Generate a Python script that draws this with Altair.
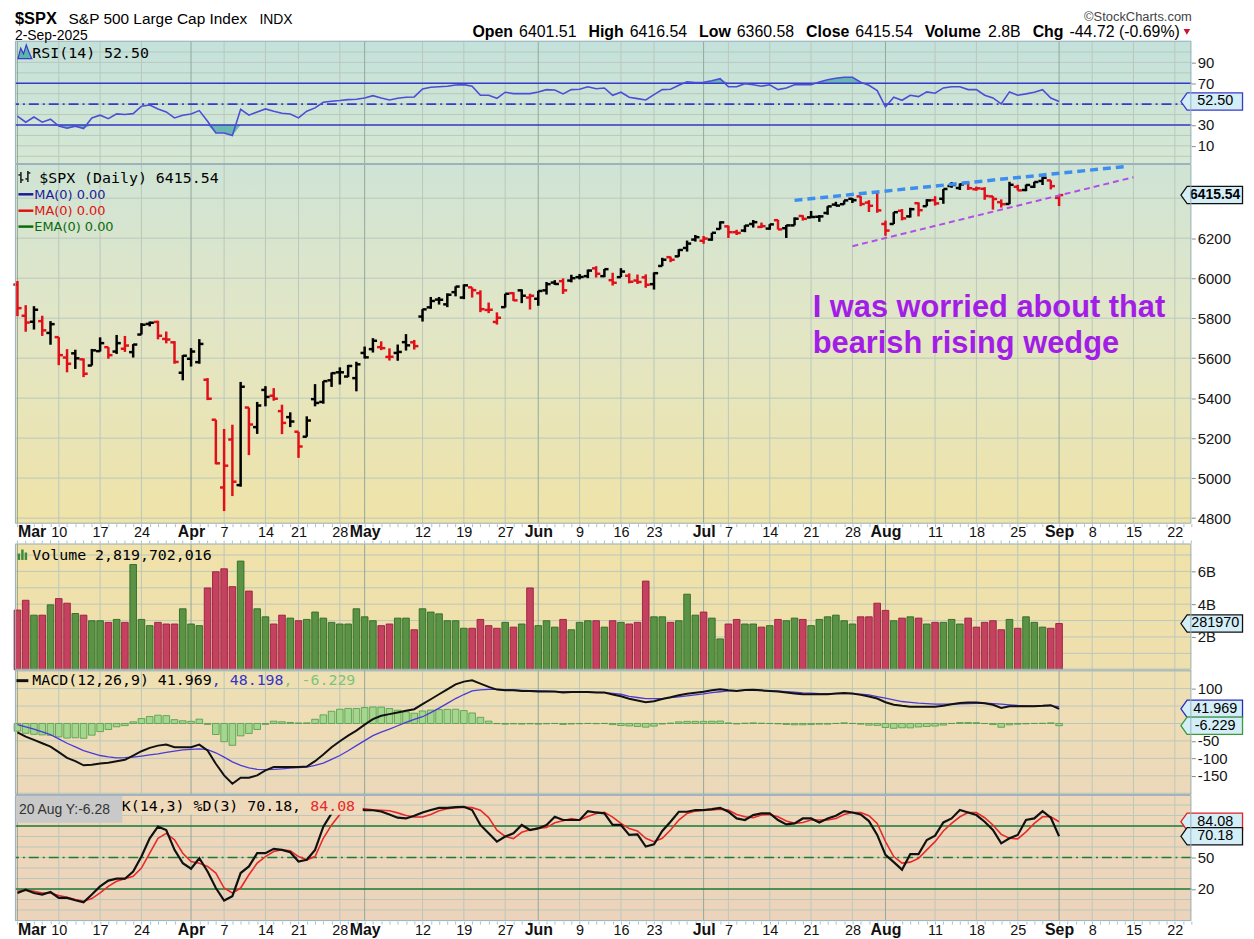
import altair as alt
import pandas as pd

# ------------------------------------------------------------------ data
# trading-day index 0 = 3-Mar-2025 ... 126 = 2-Sep-2025
OPEN = [
    5968, 5812, 5782, 5785, 5726, 5705, 5603, 5624, 5594, 5563,
    5635, 5655, 5633, 5647, 5630, 5718, 5771, 5781, 5696, 5679,
    5527, 5597, 5580, 5492, 5292, 4953, 5193, 4965, 5353, 5255,
    5441, 5412, 5335, 5305, 5232, 5207, 5395, 5381, 5489, 5529,
    5508, 5500, 5626, 5645, 5655, 5606, 5626, 5680, 5679, 5808,
    5854, 5893, 5869, 5930, 5903, 5954, 5925, 5841, 5781, 5855,
    5925, 5939, 5903, 5897, 5939, 5978, 5985, 5988, 6005, 6010,
    6049, 6010, 5990, 6005, 6012, 5988, 6004, 5970, 6061, 6105,
    6109, 6151, 6193, 6187, 6193, 6246, 6259, 6230, 6238, 6271,
    6256, 6248, 6290, 6250, 6264, 6311, 6304, 6307, 6326, 6368,
    6370, 6397, 6409, 6378, 6428, 6271, 6271, 6337, 6309, 6375,
    6360, 6390, 6397, 6461, 6451, 6478, 6445, 6447, 6409, 6380,
    6371, 6457, 6441, 6457, 6486, 6489, 6401.51,
]
HIGH = [
    5986, 5865, 5860, 5812, 5785, 5705, 5645, 5642, 5598, 5646,
    5704, 5655, 5716, 5711, 5670, 5775, 5783, 5787, 5733, 5685,
    5615, 5650, 5695, 5500, 5292, 5246, 5267, 5481, 5353, 5381,
    5460, 5450, 5367, 5329, 5232, 5309, 5470, 5485, 5528, 5554,
    5566, 5582, 5658, 5700, 5684, 5649, 5668, 5720, 5691, 5845,
    5906, 5906, 5924, 5959, 5969, 5954, 5939, 5878, 5829, 5922,
    5930, 5944, 5922, 5937, 5981, 5990, 5999, 6017, 6021, 6043,
    6060, 6046, 6027, 6050, 6024, 6018, 6019, 6029, 6102, 6108,
    6145, 6188, 6216, 6211, 6227, 6284, 6263, 6242, 6265, 6291,
    6278, 6270, 6292, 6266, 6304, 6315, 6336, 6316, 6360, 6382,
    6389, 6401, 6410, 6390, 6428, 6288, 6330, 6346, 6352, 6379,
    6395, 6410, 6446, 6481, 6474, 6481, 6458, 6455, 6410, 6394,
    6482, 6467, 6468, 6482, 6508, 6489, 6416.54,
]
LOW = [
    5810, 5732, 5743, 5711, 5667, 5565, 5529, 5546, 5505, 5563,
    5633, 5597, 5621, 5631, 5603, 5718, 5759, 5694, 5674, 5572,
    5489, 5558, 5572, 5390, 5069, 4835, 4910, 4957, 5115, 5221,
    5359, 5387, 5220, 5255, 5101, 5207, 5359, 5372, 5456, 5468,
    5505, 5434, 5598, 5628, 5640, 5588, 5587, 5638, 5643, 5783,
    5847, 5868, 5855, 5909, 5895, 5903, 5830, 5825, 5768, 5853,
    5886, 5875, 5843, 5862, 5918, 5966, 5921, 5979, 5994, 6000,
    6003, 6005, 5963, 6005, 5974, 5971, 5952, 5943, 6060, 6080,
    6107, 6133, 6183, 6172, 6187, 6244, 6201, 6216, 6230, 6253,
    6251, 6242, 6243, 6201, 6264, 6288, 6303, 6282, 6317, 6360,
    6368, 6376, 6360, 6331, 6327, 6212, 6271, 6289, 6303, 6309,
    6360, 6363, 6372, 6452, 6441, 6441, 6437, 6392, 6343, 6353,
    6370, 6438, 6435, 6451, 6466, 6444, 6360.58,
]
CLOSE = [
    5850, 5778, 5842, 5739, 5770, 5615, 5572, 5599, 5522, 5639,
    5675, 5615, 5675, 5663, 5668, 5767, 5777, 5712, 5693, 5581,
    5612, 5633, 5671, 5397, 5074, 5062, 4982, 5457, 5268, 5363,
    5406, 5397, 5276, 5283, 5158, 5288, 5376, 5485, 5525, 5529,
    5561, 5569, 5604, 5687, 5650, 5607, 5631, 5664, 5660, 5844,
    5886, 5892, 5917, 5958, 5964, 5940, 5845, 5842, 5802, 5922,
    5889, 5912.2, 5911.7, 5936, 5970, 5971, 5939, 6000, 6006, 6038,
    6022, 6045, 5977, 6033, 5982, 5981, 5967, 6025, 6092.2, 6092.1,
    6141, 6173, 6205, 6198, 6227, 6279, 6230, 6226, 6263, 6280,
    6260, 6269, 6244, 6264, 6297.4, 6296.8, 6306, 6309, 6359, 6363,
    6389, 6390, 6371, 6362, 6339, 6238, 6330, 6299, 6345, 6340,
    6389, 6374, 6446, 6466, 6469, 6450, 6449, 6411, 6396, 6370,
    6467, 6439, 6466, 6481, 6502, 6460.26, 6415.54,
]
PREV_CLOSE = 5954.50
VOLUME_B = [
    3.64, 4.24, 3.33, 3.33, 3.96, 4.34, 4.06, 3.43, 3.33, 2.99,
    2.99, 2.89, 3.07, 2.89, 6.42, 3.07, 2.69, 2.89, 2.79, 2.79,
    3.72, 2.79, 2.69, 4.99, 5.98, 6.16, 5.07, 6.63, 4.80, 3.72,
    3.23, 2.79, 3.33, 3.15, 2.99, 3.07, 3.52, 3.15, 2.89, 2.79,
    2.79, 3.72, 3.23, 2.99, 2.69, 2.79, 3.15, 3.15, 2.44, 3.72,
    3.52, 3.41, 2.99, 2.99, 2.53, 2.53, 3.07, 2.69, 2.53, 2.89,
    2.60, 2.79, 4.99, 2.69, 2.99, 2.60, 3.07, 2.44, 2.89, 2.99,
    2.99, 2.60, 2.99, 2.89, 2.79, 2.89, 5.41, 3.23, 3.23, 2.89,
    2.99, 4.61, 3.33, 3.52, 3.15, 1.88, 2.79, 3.07, 2.79, 2.79,
    2.60, 2.69, 3.07, 2.99, 3.15, 3.07, 2.69, 3.07, 3.23, 3.33,
    2.99, 2.79, 3.23, 3.23, 4.06, 3.62, 2.99, 3.15, 3.23, 3.15,
    2.79, 2.89, 2.89, 3.07, 2.79, 3.15, 2.60, 2.89, 2.99, 2.44,
    3.07, 2.53, 3.23, 2.89, 2.60, 2.53, 2.82,
]
RSI14 = [
    38.4, 32.7, 37.7, 32.7, 35.5, 28.9, 26.9, 28.9, 26.6, 36.8,
    39.4, 36.1, 40.6, 40.0, 40.9, 48.0, 49.2, 45.4, 42.5, 36.8,
    39.4, 40.6, 43.8, 33.6, 22.4, 22.3, 19.9, 45.1, 39.4, 42.5,
    45.4, 43.2, 41.3, 40.6, 36.8, 43.2, 46.4, 51.8, 52.8, 53.4,
    54.3, 54.7, 55.9, 58.1, 55.9, 54.0, 55.6, 56.6, 56.9, 64.5,
    66.1, 66.7, 67.1, 68.4, 68.7, 67.1, 58.5, 58.5, 55.6, 61.4,
    60.1, 60.1, 60.1, 61.7, 63.9, 63.6, 59.8, 63.9, 64.2, 66.7,
    64.8, 65.5, 58.5, 61.4, 56.6, 55.3, 54.0, 59.1, 63.9, 64.2,
    68.1, 71.5, 70.6, 70.9, 72.4, 74.4, 66.7, 66.7, 69.6, 68.6,
    67.1, 68.6, 63.9, 65.5, 68.6, 68.6, 68.7, 71.2, 73.4, 74.8,
    75.7, 75.7, 71.0, 68.1, 62.9, 47.3, 56.6, 53.7, 58.5, 57.2,
    61.7, 60.4, 65.5, 66.7, 66.7, 63.9, 63.9, 58.5, 55.9, 50.2,
    61.7, 58.5, 59.8, 61.4, 63.9, 55.9, 52.5,
]
MACD_LINE = [
    -25.4, -37.7, -47.2, -56.7, -66.2, -82.3, -98.5, -108.0, -120.0, -118.5,
    -115.0, -112.7, -108.0, -104.0, -91.8, -79.5, -70.0, -63.4, -60.5, -68.0,
    -68.0, -68.0, -60.5, -77.6, -115.6, -148.8, -172.6, -155.5, -155.5, -148.8,
    -134.6, -125.0, -125.0, -125.0, -125.0, -123.2, -108.0, -89.0, -68.0, -51.0,
    -34.8, -20.5, -3.4, 12.6, 22.1, 26.8, 31.6, 36.4, 41.0, 55.3,
    69.5, 83.8, 98.0, 112.3, 120.0, 123.6, 114.2, 104.8, 97.2, 95.2,
    95.2, 93.4, 93.4, 91.5, 91.5, 91.5, 88.6, 90.0, 90.0, 90.0,
    88.6, 88.6, 83.0, 78.0, 71.0, 66.0, 61.0, 64.0, 70.0, 75.0,
    81.0, 85.0, 88.0, 91.0, 95.0, 98.0, 95.0, 93.0, 96.0, 97.0,
    95.0, 93.4, 91.5, 88.6, 85.8, 84.0, 83.8, 83.8, 83.8, 85.8,
    87.7, 85.8, 82.0, 77.2, 71.5, 61.0, 54.0, 50.7, 48.0, 48.0,
    48.0, 48.0, 50.7, 55.3, 59.0, 60.0, 60.0, 58.0, 53.6, 44.5,
    49.6, 49.6, 49.6, 49.6, 50.7, 52.5, 41.969,
]
MACD_SIGNAL = [
    -3.4, -9.5, -16.0, -24.0, -32.0, -44.0, -56.7, -67.0, -77.6, -85.0,
    -91.8, -95.5, -98.5, -98.0, -96.6, -93.5, -90.0, -87.1, -83.0, -79.0,
    -75.8, -74.0, -72.9, -75.0, -84.0, -96.6, -110.0, -120.0, -127.0, -131.6,
    -132.0, -131.6, -130.0, -127.9, -126.5, -125.0, -120.0, -113.7, -103.0, -91.8,
    -78.0, -63.4, -49.0, -34.8, -25.0, -16.0, -6.5, 3.1, 11.5, 19.4,
    31.0, 43.9, 57.5, 71.5, 83.0, 93.4, 96.5, 98.0, 97.6, 97.2,
    96.2, 95.2, 94.3, 93.4, 92.4, 91.5, 91.5, 91.5, 90.7, 90.0,
    89.3, 88.6, 86.2, 83.8, 78.0, 74.5, 71.5, 71.5, 71.5, 73.9,
    76.3, 79.0, 82.0, 85.0, 88.6, 91.0, 93.4, 94.3, 95.2, 95.2,
    94.3, 93.4, 92.4, 91.5, 89.6, 87.7, 86.8, 85.8, 85.8, 85.8,
    85.8, 85.8, 84.0, 82.0, 77.0, 72.4, 67.7, 63.0, 60.5, 58.1,
    56.7, 55.3, 55.3, 55.3, 56.3, 57.2, 57.7, 58.1, 56.7, 55.3,
    53.5, 51.6, 50.6, 49.6, 50.2, 50.7, 48.198,
]
STO_K = [
    16.2, 19.4, 16.2, 14.7, 17.1, 11.5, 11.5, 9.3, 7.4, 14.7,
    22.5, 28.0, 29.8, 29.8, 36.7, 50.9, 68.3, 79.4, 76.2, 57.3,
    44.6, 39.3, 49.3, 36.7, 20.9, 9.0, 13.1, 35.2, 41.5, 54.1,
    54.1, 58.2, 57.3, 55.0, 46.2, 47.8, 57.3, 79.4, 92.0, 97.0,
    98.0, 96.5, 95.2, 95.0, 93.8, 91.0, 87.9, 87.2, 89.8, 92.9,
    95.2, 97.3, 97.3, 98.0, 98.3, 95.2, 81.0, 73.0, 65.1, 69.9,
    73.0, 81.0, 76.2, 77.7, 81.0, 88.8, 85.7, 85.7, 85.7, 94.2,
    92.9, 92.0, 81.0, 81.0, 71.5, 72.0, 60.4, 62.6, 75.3, 84.1,
    93.6, 93.6, 95.2, 95.2, 96.1, 97.3, 93.6, 87.2, 85.7, 90.4,
    92.0, 92.0, 85.7, 81.5, 82.5, 87.2, 87.2, 83.4, 87.2, 89.8,
    94.2, 92.9, 91.0, 84.7, 71.5, 52.5, 45.6, 38.4, 53.2, 53.2,
    66.7, 70.8, 83.4, 87.2, 95.2, 92.9, 90.4, 84.1, 76.2, 63.5,
    68.3, 71.5, 85.7, 87.2, 94.2, 87.9, 70.18,
]
STO_D = [
    17.8, 18.8, 17.8, 16.2, 16.2, 13.7, 12.1, 9.9, 8.3, 10.9,
    16.2, 22.5, 27.3, 29.8, 32.0, 39.9, 54.1, 68.3, 73.0, 66.8,
    54.1, 46.2, 44.6, 41.5, 35.2, 20.9, 16.2, 20.9, 33.6, 44.6,
    50.9, 55.7, 57.3, 56.4, 50.9, 47.8, 50.9, 68.3, 81.0, 91.0,
    96.0, 97.0, 96.5, 95.5, 95.0, 94.5, 92.5, 90.0, 88.5, 88.5,
    91.0, 94.5, 96.5, 97.5, 98.0, 97.5, 95.0, 88.0, 76.0, 70.0,
    68.0, 74.0, 76.5, 78.0, 78.5, 83.0, 85.0, 87.0, 85.7, 89.0,
    92.0, 93.0, 88.5, 82.5, 77.5, 75.3, 68.3, 65.1, 68.3, 76.2,
    85.7, 92.0, 94.2, 95.2, 95.2, 96.1, 95.2, 91.0, 88.8, 87.9,
    90.4, 91.0, 88.8, 84.7, 82.5, 83.4, 85.7, 85.7, 85.7, 87.2,
    91.0, 92.9, 92.9, 89.8, 82.5, 65.1, 50.9, 44.6, 45.6, 49.3,
    57.3, 65.1, 75.3, 82.5, 88.8, 92.9, 92.9, 87.9, 81.0, 72.0,
    68.3, 67.7, 74.4, 82.5, 88.8, 88.8, 84.08,
]
VOLUME_TOTAL = "2,819,702,016"

# date axis (trading-day index -> label); future days extend to index 142
TICK_IDX = [0, 5, 10, 15, 21, 25, 30, 34, 39, 42, 49, 54, 59, 63, 68, 73, 77,
            83, 86, 91, 96, 101, 105, 111, 116, 121, 126, 130, 135, 140]
TICK_TXT = ["Mar", "10", "17", "24", "Apr", "7", "14", "21", "28", "May", "12",
            "19", "27", "Jun", "9", "16", "23", "Jul", "7", "14", "21", "28",
            "Aug", "11", "18", "25", "Sep", "8", "15", "22"]
MONTH_IDX = [0, 21, 42, 63, 83, 105, 126]
N_AXIS = 143

WEDGE_TOP_X, WEDGE_TOP_Y = [94, 134.4], [6389, 6560]
WEDGE_LOW_X, WEDGE_LOW_Y = [101, 135], [6160, 6505]
NOTE_LINES = ["I was worried about that", "bearish rising wedge"]
NOTE_X, NOTE_Y = [96.2, 96.2], [5807, 5627]

n = len(CLOSE)
for arr in (OPEN, HIGH, LOW, VOLUME_B, RSI14, MACD_LINE, MACD_SIGNAL, STO_K, STO_D):
    assert len(arr) == n, len(arr)

prev = [PREV_CLOSE] + CLOSE[:-1]
df = pd.DataFrame({
    "i": list(range(n)), "o": OPEN, "h": HIGH, "l": LOW, "c": CLOSE,
    "v": VOLUME_B, "rsi": RSI14, "macd": MACD_LINE, "sig": MACD_SIGNAL,
    "k": STO_K, "d": STO_D,
})
df["dir"] = ["up" if c >= p else "down" for c, p in zip(CLOSE, prev)]
df["hist"] = df["macd"] - df["sig"]
df["x0"] = df["i"] - 0.5
df["x1"] = df["i"] + 0.5
df["b0"] = df["i"] - 0.4
df["b1"] = df["i"] + 0.4

week_ticks = pd.DataFrame({"i": [t for t in TICK_IDX if t not in MONTH_IDX]})
month_ticks = pd.DataFrame({"i": MONTH_IDX})
alldays = pd.DataFrame({"i": list(range(N_AXIS))})
ONE = pd.DataFrame({"z": [0]})

# ------------------------------------------------------------------ style
W = 1184
STRIP = 20
H_RSI, H_PX, H_VOL, H_MACD, H_STO = 124, 362, 127 + STRIP, 126, 127
AXF = "Liberation Sans"
LEGF = "DejaVu Sans Mono"
GRID = "#b9c8bc"
GRID_M = "#93a79c"
BORDER = "#9bb2bb"
TAG_FILL = "#d3eef6"
TAG_SHAPE = "M-1,0L-0.8,-0.28L1,-0.28L1,0.28L-0.8,0.28Z"
TAG_CX = 1204.5
TAG_SIZE = 62 * 62
ICON_SHAPE = "M-1,1L-0.6,-0.5L-0.2,0.3L0.2,-1L0.6,0.1L1,1Z"

XS = alt.Scale(domain=[-0.3, 142.0], nice=False, zero=False)

LABELS = [""] * N_AXIS
for t, s in zip(TICK_IDX, TICK_TXT):
    LABELS[t] = s
LABEL_EXPR = "[" + ",".join("'" + s + "'" for s in LABELS) + "][datum.value]"
MONTH_TEST = "indexof([" + ",".join(map(str, MONTH_IDX)) + "], datum.value) >= 0"

DATE_AX = alt.Axis(
    values=list(range(N_AXIS)), labelExpr=LABEL_EXPR, tickSize=3,
    tickColor="#9fc3d4", tickWidth=1, domain=False, grid=False,
    labelFont=AXF,
    labelFontSize={"condition": {"test": MONTH_TEST, "value": 16}, "value": 14.5},
    labelFontWeight={"condition": {"test": MONTH_TEST, "value": "bold"}, "value": "normal"},
    labelColor="#111111", labelBaseline="alphabetic", labelPadding=10,
    labelOverlap=False, labelFlush=6, title=None,
)


def xenc(field, axis=None):
    return alt.X(f"{field}:Q", scale=XS, axis=axis, title=None)


def right_axis(values, expr="'' + datum.value"):
    return alt.Axis(orient="right", values=values, grid=False, domain=False,
                    ticks=True, tickSize=4, tickColor="#7f8c90", tickWidth=1,
                    labelFont=AXF, labelFontSize=15, labelColor="#151515",
                    labelPadding=2, labelOverlap=False, title=None, labelExpr=expr)


def yfactory(domain, axis):
    sc = alt.Scale(domain=domain, nice=False, zero=False)

    def Y(field):
        return alt.Y(f"{field}:Q", scale=sc, axis=axis, title=None)
    return Y


def bg(h, stops, top=0):
    grad = alt.LinearGradient(
        gradient="linear",
        stops=[alt.GradientStop(color=c, offset=o) for o, c in stops],
        x1=0, x2=0, y1=0, y2=1)
    return alt.Chart(ONE).mark_rect(fill=grad, strokeWidth=0).encode(
        x=alt.value(0), x2=alt.value(W), y=alt.value(top), y2=alt.value(h))


def border(h, top=0):
    return alt.Chart(ONE).mark_rect(fillOpacity=0, stroke=BORDER, strokeWidth=1).encode(
        x=alt.value(0.5), x2=alt.value(W - 0.5), y=alt.value(top + 0.5), y2=alt.value(h - 0.5))


def hgrid(values, Y):
    return alt.Chart(pd.DataFrame({"g": values})).mark_rule(color=GRID, strokeWidth=1).encode(y=Y("g"))


def vgrid(h, axis=None, top=0):
    a = alt.Chart(week_ticks).mark_rule(color=GRID, strokeWidth=1).encode(
        x=xenc("i", axis), y=alt.value(top + 0.5), y2=alt.value(h - 0.5))
    b = alt.Chart(month_ticks).mark_rule(color=GRID_M, strokeWidth=1).encode(
        x=xenc("i", axis), y=alt.value(top + 0.5), y2=alt.value(h - 0.5))
    return [a, b]


def txt(s, x, y, size, color="#000000", font=LEGF, weight="normal", align="left"):
    return alt.Chart(ONE).mark_text(
        text=s, align=align, baseline="alphabetic", font=font, fontSize=size,
        fontWeight=weight, color=color).encode(x=alt.value(x), y=alt.value(y))


def seg(x1, x2, y1, y2, color, width):
    return alt.Chart(ONE).mark_rule(color=color, strokeWidth=width).encode(
        x=alt.value(x1), x2=alt.value(x2), y=alt.value(y1), y2=alt.value(y2))


def tag(val, label, Y, edge, weight="normal", fs=14.5):
    d = pd.DataFrame({"val": [val], "lab": [label]})
    shape = alt.Chart(d).mark_point(
        shape=TAG_SHAPE, size=TAG_SIZE, filled=True, fill=TAG_FILL, stroke=edge,
        strokeWidth=1.3, opacity=1).encode(x=alt.value(TAG_CX), y=Y("val"))
    text = alt.Chart(d).mark_text(
        align="center", baseline="middle", font=AXF, fontSize=fs, fontWeight=weight,
        color="#000000").encode(x=alt.value(TAG_CX + 3.5), y=Y("val"), text="lab:N")
    return [shape, text]


# ------------------------------------------------------------------ header (in RSI chart, above plot)
AR = {" ": 278, "(": 333, ")": 333, "%": 889, "-": 333, ".": 278, "B": 667}
ARB = {"O": 778, "p": 611, "e": 556, "n": 611, "H": 722, "i": 278, "g": 611,
       "h": 611, "L": 611, "o": 611, "w": 778, "C": 722, "l": 278, "s": 556,
       "V": 667, "u": 611, "m": 889}


def tw(s, bold, size):
    tab = ARB if bold else AR
    return sum(tab.get(ch, 556) for ch in s) * size / 1000.0


chg = CLOSE[-1] - CLOSE[-2]
pct = chg / CLOSE[-2] * 100
HDR_SEGS = [("Open", True), (f"{OPEN[-1]:.2f}", False), ("High", True), (f"{HIGH[-1]:.2f}", False),
            ("Low", True), (f"{LOW[-1]:.2f}", False), ("Close", True), (f"{CLOSE[-1]:.2f}", False),
            ("Volume", True), (f"{VOLUME_B[-1]:.1f}B", False), ("Chg", True),
            (f"{chg:.2f} ({pct:.2f}%)", False)]
HFS = 16
h_left, h_right = 460.5, 1172.5
total = sum(tw(s, b, HFS) for s, b in HDR_SEGS)
g1 = (h_right - h_left - total) / 16.0


def header_layers():
    L = [
        txt("$SPX", 0, -17, 16.5, font=AXF, weight="bold"),
        txt("S&P 500 Large Cap Index", 54, -17, 15.5, font=AXF),
        txt("INDX", 246, -17, 14, font=AXF),
        txt("2-Sep-2025", 0, -1, 14, font=AXF),
        txt("\u00a9StockCharts.com", 1184.5, -20, 13, font=AXF, color="#444444", align="right"),
    ]
    x = h_left
    for s, b in HDR_SEGS:
        L.append(txt(s, x, -4, HFS, font=AXF, weight="bold" if b else "normal"))
        x += tw(s, b, HFS) + (g1 if b else 2 * g1)
    L.append(alt.Chart(ONE).mark_point(shape="triangle-down", size=45, filled=True,
                                       color="#cc1133", opacity=1).encode(
        x=alt.value(1179.5), y=alt.value(-9)))
    return L


# ------------------------------------------------------------------ RSI panel
Yr = yfactory([-7.4, 110.7], right_axis([10, 30, 70, 90]))
rsi_layers = [bg(H_RSI, [(0, "#c3e1db"), (1, "#d6e8d3")]),
              hgrid(list(range(0, 101, 10)), Yr)] + vgrid(H_RSI) + [
    alt.Chart(df).transform_calculate(t="max(datum.rsi, 70)").mark_area(
        color="#5db3ad", opacity=0.9).encode(x=xenc("i"), y=Yr("t"), y2=alt.datum(70)),
    alt.Chart(df).transform_calculate(t="min(datum.rsi, 30)").mark_area(
        color="#5db3ad", opacity=0.9).encode(x=xenc("i"), y=Yr("t"), y2=alt.datum(30)),
    alt.Chart(pd.DataFrame({"g": [70, 30]})).mark_rule(color="#3a3ac8", strokeWidth=1.6).encode(y=Yr("g")),
    alt.Chart(pd.DataFrame({"g": [50]})).mark_rule(color="#3a3ac8", strokeWidth=1.6,
                                                    strokeDash=[10, 4, 2, 4]).encode(y=Yr("g")),
    alt.Chart(df).mark_line(color="#4d4dd6", strokeWidth=1.6).encode(x=xenc("i"), y=Yr("rsi")),
    alt.Chart(ONE).mark_point(shape=ICON_SHAPE, size=196, filled=True, fill="#5db3ad",
                              stroke="#3a3ac8", strokeWidth=1.2, opacity=1).encode(
        x=alt.value(10), y=alt.value(11)),
    txt("RSI(14) 52.50", 17.5, 17, 15),
] + tag(RSI14[-1], f"{RSI14[-1]:.2f}", Yr, "#3a3acb") + [border(H_RSI)] + header_layers()
rsi_chart = alt.layer(*rsi_layers).properties(width=W, height=H_RSI)

# ------------------------------------------------------------------ price panel
Yp = yfactory([4772, 6571], right_axis(list(range(4800, 6201, 200))))
PCOL = alt.Color("dir:N", scale=alt.Scale(domain=["up", "down"], range=["#000000", "#e0101a"]), legend=None)
price_layers = [bg(H_PX, [(0, "#cfe4d5"), (0.45, "#e2e6c6"), (1, "#efe3a8")]),
                hgrid(list(range(4800, 6401, 200)), Yp)] + vgrid(H_PX, DATE_AX) + [
    alt.Chart(df).mark_rule(strokeWidth=2.5).encode(x=xenc("i", DATE_AX), y=Yp("l"), y2="h:Q", color=PCOL),
    alt.Chart(df).mark_rule(strokeWidth=2.5).encode(x=xenc("x0", DATE_AX), x2="i:Q", y=Yp("o"), color=PCOL),
    alt.Chart(df).mark_rule(strokeWidth=2.5).encode(x=xenc("i", DATE_AX), x2="x1:Q", y=Yp("c"), color=PCOL),
    alt.Chart(pd.DataFrame({"x": WEDGE_TOP_X, "y": WEDGE_TOP_Y})).mark_line(
        color="#3d8fef", strokeWidth=3.5, strokeDash=[8, 5]).encode(x=xenc("x", DATE_AX), y=Yp("y")),
    alt.Chart(pd.DataFrame({"x": WEDGE_LOW_X, "y": WEDGE_LOW_Y})).mark_line(
        color="#b050e6", strokeWidth=2, strokeDash=[6, 4]).encode(x=xenc("x", DATE_AX), y=Yp("y")),
    alt.Chart(pd.DataFrame({"x": NOTE_X, "y": NOTE_Y, "t": NOTE_LINES})).mark_text(
        align="left", baseline="alphabetic", font=AXF, fontSize=31, fontWeight="bold",
        color="#a21de6").encode(x=xenc("x", DATE_AX), y=Yp("y"), text="t:N"),
    # small OHLC-bar icon
    seg(6, 6, 8, 19, "#222222", 1.6), seg(3.5, 6, 11, 11, "#222222", 1.6), seg(6, 8.5, 16, 16, "#222222", 1.6),
    seg(13, 13, 7, 18, "#222222", 1.6), seg(10.5, 13, 15, 15, "#222222", 1.6), seg(13, 15.5, 9, 9, "#222222", 1.6),
    txt("$SPX (Daily) 6415.54", 24.5, 19, 15),
    seg(3.5, 18.5, 30.5, 30.5, "#1a1a99", 2.5),
    txt("MA(0) 0.00", 19.5, 35, 13, color="#1a1a99", font="DejaVu Sans"),
    seg(3.5, 18.5, 47, 47, "#dd1111", 2.5),
    txt("MA(0) 0.00", 19.5, 51.5, 13, color="#dd1111", font="DejaVu Sans"),
    seg(3.5, 18.5, 63, 63, "#0a6a0a", 2.5),
    txt("EMA(0) 0.00", 19.5, 67.5, 13, color="#0a6a0a", font="DejaVu Sans"),
] + tag(CLOSE[-1], f"{CLOSE[-1]:.2f}", Yp, "#111111", weight="bold", fs=14) + [border(H_PX)]
price_chart = alt.layer(*price_layers).properties(width=W, height=H_PX)

# ------------------------------------------------------------------ volume panel (top STRIP px = date strip)
Yv = yfactory([0, 7.7 * H_VOL / (H_VOL - STRIP)], right_axis([2, 4, 6], "datum.value + 'B'"))
vol_layers = [bg(H_VOL, [(0, "#f0e2a9"), (1, "#eedfae")], top=STRIP),
              hgrid(list(range(1, 8)), Yv)] + vgrid(H_VOL, top=STRIP) + [
    alt.Chart(alldays).mark_rule(color="#9fc3d4", strokeWidth=1).encode(
        x=xenc("i"), y=alt.value(STRIP - 3), y2=alt.value(STRIP)),
    alt.Chart(df).mark_rect(strokeWidth=0.9).encode(
        x=xenc("b0"), x2="b1:Q", y=Yv("v"), y2=alt.datum(0),
        fill=alt.Fill("dir:N", scale=alt.Scale(domain=["up", "down"], range=["#5a9346", "#c4425f"]), legend=None),
        stroke=alt.Stroke("dir:N", scale=alt.Scale(domain=["up", "down"], range=["#2e6b22", "#9a1d3f"]), legend=None)),
    seg(4, 4, STRIP + 10, STRIP + 16.5, "#3d8a3d", 2.5),
    seg(7.5, 7.5, STRIP + 6, STRIP + 16.5, "#3d8a3d", 2.5),
    seg(11, 11, STRIP + 9, STRIP + 16.5, "#3d8a3d", 2.5),
    txt("Volume " + VOLUME_TOTAL, 17.5, STRIP + 16.5, 15),
] + tag(VOLUME_B[-1], "281970", Yv, "#111111") + [border(H_VOL, top=STRIP)]
vol_chart = alt.layer(*vol_layers).properties(width=W, height=H_VOL)

# ------------------------------------------------------------------ MACD panel
Ym = yfactory([-204.8, 154.1], right_axis([100, -50, -100, -150]))
CW = 15 * 0.6021
macd_layers = [bg(H_MACD, [(0, "#efe0b2"), (1, "#ecd8ba")]),
               hgrid(list(range(-200, 151, 50)), Ym)] + vgrid(H_MACD) + [
    alt.Chart(df).mark_rect(fill="#a3d78f", stroke="#4f9a45", strokeWidth=0.8).encode(
        x=xenc("b0"), x2="b1:Q", y=Ym("hist"), y2=alt.datum(0)),
    alt.Chart(df).mark_line(color="#4b3ad9", strokeWidth=1.3).encode(x=xenc("i"), y=Ym("sig")),
    alt.Chart(df).mark_line(color="#111111", strokeWidth=2).encode(x=xenc("i"), y=Ym("macd")),
    seg(1.5, 13.5, 11, 11, "#111111", 3),
    txt(f"MACD(12,26,9) {MACD_LINE[-1]:.3f}", 17.5, 15.5, 15),
    txt(f", {MACD_SIGNAL[-1]:.3f}", 17.5 + 20 * CW, 15.5, 15, color="#3535c8"),
    txt(f", {MACD_LINE[-1] - MACD_SIGNAL[-1]:.3f}", 17.5 + 28 * CW, 15.5, 15, color="#7cc47c"),
] + tag(MACD_LINE[-1], f"{MACD_LINE[-1]:.3f}", Ym, "#2a2ab8") + tag(
    MACD_LINE[-1] - MACD_SIGNAL[-1], f"{MACD_LINE[-1] - MACD_SIGNAL[-1]:.3f}", Ym, "#3c9a3c") + [border(H_MACD)]
macd_chart = alt.layer(*macd_layers).properties(width=W, height=H_MACD)

# ------------------------------------------------------------------ stochastic panel
Ys = yfactory([-10.6, 109.6], right_axis([20, 50]))
sto_layers = [bg(H_STO, [(0, "#eed9ba"), (1, "#ecd3bb")]),
              hgrid(list(range(0, 101, 10)), Ys)] + vgrid(H_STO, DATE_AX) + [
    alt.Chart(pd.DataFrame({"g": [80, 20]})).mark_rule(color="#1f7a38", strokeWidth=1.6).encode(y=Ys("g")),
    alt.Chart(pd.DataFrame({"g": [50]})).mark_rule(color="#1f7a38", strokeWidth=1.6,
                                                    strokeDash=[10, 4, 2, 4]).encode(y=Ys("g")),
    alt.Chart(df).mark_line(color="#e82a2a", strokeWidth=1.6).encode(x=xenc("i", DATE_AX), y=Ys("d")),
    alt.Chart(df).mark_line(color="#111111", strokeWidth=2.2).encode(x=xenc("i", DATE_AX), y=Ys("k")),
    alt.Chart(ONE).mark_rect(fill="#eed9ba").encode(
        x=alt.value(98), x2=alt.value(350), y=alt.value(1), y2=alt.value(20)),
    txt(f"%K(14,3) %D(3) {STO_K[-1]:.2f}, ", 98.5, 16, 15),
    txt(f"{STO_D[-1]:.2f}", 98.5 + 22 * CW, 16, 15, color="#e82a2a"),
    alt.Chart(ONE).mark_rect(fill="#c9c9c9").encode(
        x=alt.value(0), x2=alt.value(108), y=alt.value(1), y2=alt.value(28)),
    txt("20 Aug Y:-6.28", 4, 19, 14, color="#333333", font=AXF),
] + tag(STO_D[-1], f"{STO_D[-1]:.2f}", Ys, "#e0202a") + tag(
    STO_K[-1], f"{STO_K[-1]:.2f}", Ys, "#111111") + [border(H_STO)]
sto_chart = alt.layer(*sto_layers).properties(width=W, height=H_STO)

chart = alt.vconcat(rsi_chart, price_chart, vol_chart, macd_chart, sto_chart,
                    spacing=0, bounds="flush").properties(
    padding={"left": 4, "top": 0, "right": 0, "bottom": 0}, background="white"
).configure_view(strokeWidth=0)

chart.save("out.html", embed_options={"renderer": "svg", "actions": False})
